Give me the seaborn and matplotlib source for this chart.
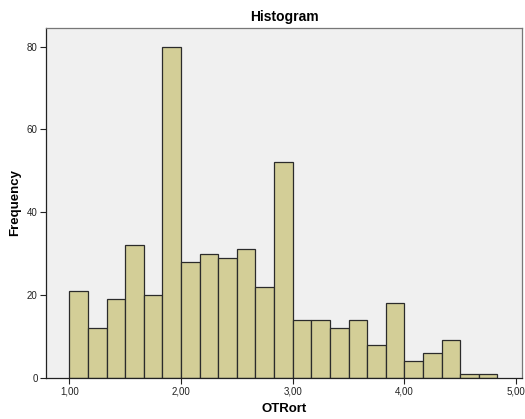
import numpy as np
import pandas as pd
import matplotlib
matplotlib.use("Agg")
import matplotlib.pyplot as plt
import seaborn as sns
from matplotlib.ticker import FuncFormatter

# Data
first_edge = 1.0
bin_width = 1 / 6
counts = [21, 12, 19, 32, 20, 80, 28, 30, 29, 31, 22, 52,
          14, 14, 12, 14, 8, 18, 4, 6, 9, 1, 1]
x_ticks = [1, 2, 3, 4, 5]
y_ticks = [0, 20, 40, 60, 80]

n_bins = len(counts)
last_edge = first_edge + bin_width * n_bins
centers = first_edge + bin_width * (np.arange(n_bins) + 0.5)
df = pd.DataFrame({"OTRort": centers, "count": counts})

sns.set_style("white")
plt.rcParams["font.family"] = ["Liberation Sans", "DejaVu Sans"]
plt.rcParams["text.color"] = "black"
plt.rcParams["axes.labelcolor"] = "black"

fig = plt.figure(figsize=(5.25, 4.19), dpi=100)
ax = fig.add_axes([0.0876, 0.0986, 0.9067, 0.8346])
ax.set_facecolor("#F0F0F0")

sns.histplot(data=df, x="OTRort", weights="count", bins=n_bins,
             binrange=(first_edge, last_edge), ax=ax,
             color="#D3CE97", alpha=1, edgecolor="#2b2b2b", linewidth=0.9)

ax.set_xlim(0.79, 5.054)
ax.set_ylim(0, 84.5)
ax.set_xticks(x_ticks)
ax.set_yticks(y_ticks)
ax.xaxis.set_major_formatter(FuncFormatter(lambda v, p: f"{v:.2f}".replace(".", ",")))
ax.tick_params(axis="both", direction="out", length=4, width=0.8,
               labelsize=7, colors="#222222", pad=2)
ax.tick_params(axis="both", bottom=True, left=True)

for side in ["left", "bottom"]:
    ax.spines[side].set_color("#222222")
    ax.spines[side].set_linewidth(0.9)
for side in ["top", "right"]:
    ax.spines[side].set_visible(True)
    ax.spines[side].set_color("#777777")
    ax.spines[side].set_linewidth(0.9)

ax.set_title("Histogram", fontsize=10, fontweight="bold", pad=5, color="black")
ax.set_xlabel("OTRort", fontsize=9.5, fontweight="bold", labelpad=5, color="black")
ax.set_ylabel("Frequency", fontsize=9.5, fontweight="bold", labelpad=4, color="black")

fig.savefig("out.png", dpi=100)
